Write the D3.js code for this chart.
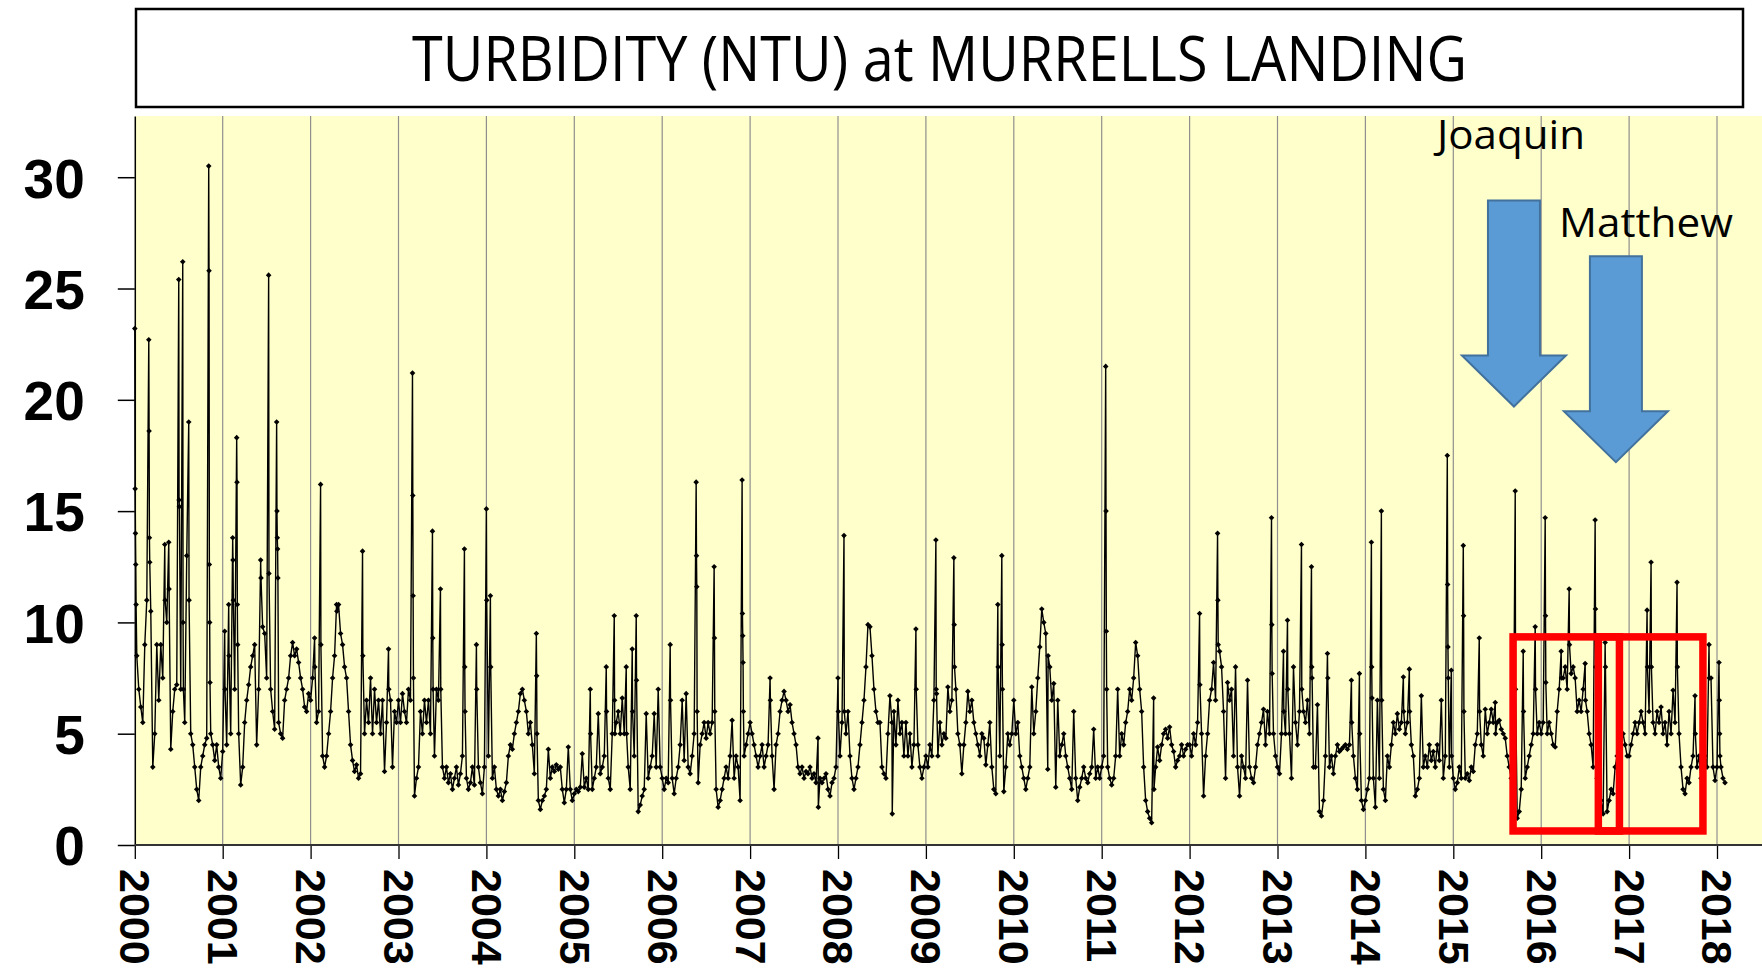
<!DOCTYPE html>
<html>
<head>
<meta charset="utf-8">
<script src="https://cdn.jsdelivr.net/npm/d3@7"></script>
<style>
  html, body { margin: 0; padding: 0; background: #ffffff; }
  svg { display: block; }
</style>
</head>
<body>
<svg id="chart" width="1762" height="970"></svg>
<script>
// ---------------- DATA ----------------
// Turbidity (NTU), one array per year.
// Each entry is one sampling slot (44 per year); a nested array is a
// short burst of consecutive readings inside the same slot (storm spikes).
const SLOTS_PER_YEAR = 44;

const t2000 = [[23.2,16,14,12.6,10.8], 8.5, 7, 6.2, 5.5, 9, 11, [22.7,18.6,13.8,12.7], 10.5, 3.5,
  5, 9, 6.5, 9, 7.5, [13.5,11], 10, [13.6,11.5], 4.3, 6,
  7, 7.2, [25.4,15.5,15.2], 7, [26.2,10,7], 5.5, 13, [19,11], 5, 4.5,
  3.5, 2.5, 2, 3.5, 4, 4.5, 4.8, [30.5,25.8,12.6,10,7.3], 5, 4.5,
  3.8, 4.5, 3.5, 3];
const t2001 = [4.2, [9.6,7], 4.5, [10.8,8.5], 5, [13.8,12.8,11], 7, [18.3,16.3,10.8,9], 5, 2.7,
  3.5, 5.5, 6.5, 7.2, 8, 8.5, 9, 4.5, 7, [12.8,12],
  9.8, 9.5, 7.5, [25.6,12.2], 7, 6, 5.2, [19,15,13.8,13.3,12], 5.5, 5,
  4.8, 6.5, 7, 7.5, 8.5, 9.1, 8.5, 8.8, 8.2, 7.5,
  7, 6.2, 6, 6.8];
const t2002 = [6.5, 7.5, [9.3,8], 5.5, 6, [16.2,9], 4, 3.5, 4, 5,
  6, 7.5, 8.5, [10.8,10.5], 10.8, 9.5, 9, 8, 7.5, 6,
  4.5, 3.8, 3.3, 3.6, 3, 3.2, [13.2,8.5], 5, 6.5, 5.5,
  7.5, 5, 7, 5.5, 6.5, 5, 6.5, 3.3, 5.5, [8.8,7],
  6.5, 3.5, 6, 5.5];
const t2003 = [6.5, 5.5, 6.8, 6, 5.5, 7, 6.5, [21.2,15.7,11.2,7.5], 2.2, 3,
  3.5, 6, 5, 6.5, 5.5, 6.5, 5, [14.1,9.3,7], 4, 7,
  6.5, [11.5,7], 3.5, 3, 3.5, 2.8, 3.2, 2.5, 3, 3.5,
  2.7, 3.2, 4, [13.3,8,6], 3, 2.5, 2.8, 3.5, 2.7, [9,7],
  3.5, 2.8, 2.3, 3.5];
const t2004 = [[15.1,11], 4, [11.2,8], 3, 3.5, 2.5, 2.2, 2.5, 2, 2.4,
  2.8, 4, 4.5, 4.3, 5, 5.5, 6, 6.8, 7, 6.5,
  6, 5, 5.5, 4.5, 3.2, [9.5,7.6,5], 2, 1.6, 2, 2.2,
  2.5, 4.3, 3, 3.5, 3.3, 3.6, 3.4, 3.5, 2.5, 1.9,
  2.5, 4.4, 2.5, 2];
const t2005 = [2.3, 2.5, 2.4, 2.6, 4.1, 2.6, 3, 2.5, [7,5], 2.5,
  3, 3.5, 5.9, 3.2, 3.5, 4, [8,6], 3, 2.5, 5,
  [10.3,6.5,5], 5.5, 6, 5, 6.6, 5, [8,5], 3.5, 2.5, [8.8,6],
  4, [10.3,7.4], 1.5, 1.8, 2.2, 2.5, 5.9, 3, 3.5, 4,
  5.9, 3.5, 7, 3.5];
const t2006 = [3, 2.5, 3, 2.8, [9,6.5], 3, 2.3, 3, 3.5, 4.5,
  6.5, 3.8, 6.8, 3.5, 3.2, 4, 5, [16.3,13,11.6,6], 2.8, 4.5,
  5, 5.5, 4.8, 5.5, 5, 5.5, [12.5,9.3,6], 2.5, 1.7, 2,
  2.5, 3, 3.5, 3, 4, 5.6, 3, 4, 3.5, 2,
  [16.4,10.4,9.4,8.2,6], 4, 4.5, 5];
const t2007 = [5.5, 5, 4.5, 4, 3.5, 4, 4.5, 3.5, 4, 4.5,
  [7.5,6.5], 4, 2.5, 4.5, 5, 6, 6.5, 6.9, 6.5, 6,
  6.3, 5.5, 5, 4.5, 3.5, 3.2, 3.5, 3, 3.3, 3.2,
  3.5, 3, 3.2, 2.8, [4.8,1.7], 3, 2.8, 3, 3.2, 2.5,
  2.2, 2.8, 3, 3.5];
const t2008 = [[7.5,6], 4, 5.5, [13.9,6], 5, 6, 4, 3, 2.5, 3,
  3.5, 4.5, 5.5, 6.5, 8, 9.9, 9.8, 8.5, 7, 6,
  5.5, 5.5, 3.5, 3.2, 3, 5, 6.7, [5.5,1.4], 6, 4.5,
  6.5, 5, 5.5, 4, 5.5, 4, 5, 3.5, 4.5, [9.7,7],
  4.5, 3.5, 3, 3.5];
const t2009 = [4, 3.5, 4.5, 4, 6.5, [13.7,7,6.8], 4, 5.5, 4.5, 5,
  4.8, 7.1, 6, 6.5, [12.9,9.9,8], 7, 5, 4.5, 3.2, 4.5,
  5.5, 6.9, 6, 6.5, 5.5, 5, 4.5, 4, 5, 4.8,
  3.6, 4.5, 5.5, 3.5, 2.5, 2.3, [10.8,8], 4, [13,9,7], 2.4,
  3.5, 5, 4.5, 5];
const t2010 = [6.5, 5, 5.5, 4, 3.5, 3, 2.5, 3, 3.5, 7.1,
  5, 6, 7.5, 8.9, 10.6, 10, 9.5, [3.4,8.5], 8, 6.5,
  7.25, 2.6, 6.5, 4, 4.5, 5, 4, 3.5, 3, 2.5,
  6, 3, 2, 2.6, 3, 3.5, 3, 2.8, 3.2, 3.5,
  5.2, 3, 3.5, 3];
const t2011 = [3.5, 4, [21.5,15,9.6,7], 3.5, 3, 2.7, 3, 4, 7, 4,
  5, 4.5, 5.5, 6, 7, 6.5, 7.5, 9.1, 8.5, 7,
  6, 3.5, 2, 1.5, 1.2, 1, [6.6,2.5], 3.5, 4.4, 3.8,
  4.5, 5, 5.2, 4.8, 5.3, 4.5, 4.2, 3.5, 3.8, 4,
  4.5, 4, 4.3, 4.5];
const t2012 = [4.5, 4, 5, 4.5, 5.5, [10.4,7.2], 5, 2.2, 4, 5,
  6.5, 7, 8.2, 6.5, [14,11,9], 8.7, 8, 6, 3, 7.3,
  6.5, 7, 4, 8, 3.5, 2.2, 4, 3.5, 3, 7.4,
  3.5, 3, 2.8, 3.5, 4.5, 5, 5.5, 6.1, 4.5, 6,
  5, [14.7,9.9,7.7], 5, 4];
const t2013 = [3.5, 3.2, 5, [8.7,6], 5, [10.1,7], 5, 3, 8, 5.5,
  4.5, 6, [13.5,7], 6, 5.5, 6.5, 5, [12.5,8,7.5], 3.5, 3.5,
  6.3, 1.5, 1.3, 2, 4, [8.6,7.5], 3.5, 4, 3.2, 4,
  4.5, 4.2, 4.3, 4.4, 4.5, 4.3, 4.5, [7.4,5.5], 4, 3,
  2.5, [7.7,5], 2, 1.6];
const t2014 = [2, 2.5, 3, [13.6,8,6.6], 3, 1.7, 6.5, 3, [15,6.5], 2.5,
  2, 4, 3.5, 4.5, 5.5, 5, 5.9, 5.2, 5.5, [7.55,6],
  5, 5.5, [7.9,6], 4.5, 4, 2.2, 2.5, 3, 6.7, 3.5,
  4, 3.5, 4.5, 3.8, 4.2, 3.5, 4.5, 3.8, 6.5, 3,
  4, [17.5,11.7,8.9,7.5], 3.5, [7.85,4]];
const t2015 = [3, 2.5, 2.8, 3.5, 3, [13.45,10.3,6], 3, 3.2, 2.9, 3.5,
  3.3, 4.5, 5, [9.3,6], 4.5, 4, 6.1, 5, 5.5, 6.1,
  5.5, [6.4,5], 5.5, 5.6, 5.2, 5, 4.8, 4, 3.5, 3,
  2.5, [15.9,7], 1.2, 1.5, 2.5, [8.7,6], 3, 3.5, 4, 4.5,
  5, [9.8,7], 5, 5.5];
const t2016 = [5, 5.5, [14.7,10.3,7.3], 5, 5.5, 5, 4.5, 4.4, 6, 7,
  [8.7,7.5], 7.5, 8, 7, [11.5,9], 7.7, 8, 7.5, 6, 6.5,
  6, 7, [8.15,6.5], 6, 5, 4.5, 3.5, [14.6,10.6,8], 3, 2.5,
  2, 1.4, [9.1,8], 1.5, 2, 2.5, 2.3, 3.5, 4, 4.2,
  4.5, 5, 4.5, 4];
const t2017 = [4, 4.5, 5, 5.5, 5, 5.5, 6, 5.5, 5, [10.55,8],
  6, [12.7,8], 5.5, 5, 6, 5.5, 6.2, 5, 5.5, 4.5,
  6, 5, 6.95, 5.5, [11.8,8], 5, 3.5, 2.5, 2.3, 3,
  2.8, 3.5, 4, [6.7,5], 3.5, 4, 3, 3.5, 4, 3.5,
  [9,7.5], 7.5, 3.5, 2.9];
const t2018 = [3.5, [8.2,6.5,5,4], 3.5, 3, 2.8];

const seriesByYear = [
  [2000, t2000], [2001, t2001], [2002, t2002], [2003, t2003], [2004, t2004],
  [2005, t2005], [2006, t2006], [2007, t2007], [2008, t2008], [2009, t2009],
  [2010, t2010], [2011, t2011], [2012, t2012], [2013, t2013], [2014, t2014],
  [2015, t2015], [2016, t2016], [2017, t2017], [2018, t2018]
];

const xTickYears = [2000,2001,2002,2003,2004,2005,2006,2007,2008,2009,
                    2010,2011,2012,2013,2014,2015,2016,2017,2018];
const yTickValues = [0, 5, 10, 15, 20, 25, 30];

const titleText = "TURBIDITY (NTU) at MURRELLS LANDING";

// hurricanes: name, date (decimal year) and turbidity level at the arrow tip
const hurricaneNames = ["Joaquin", "Matthew"];
const hurricaneDates = [2015.69, 2016.85];
const hurricaneTipValues = [19.7, 17.2];

// highlighted post-storm windows (decimal years) and their turbidity span
const windowStarts = [2015.68, 2016.65];
const windowEnds   = [2016.89, 2017.84];
const windowLow = 0.63, windowHigh = 9.35;

// ---------------- BUILD POINTS ----------------
const points = [];
seriesByYear.forEach(([yr, vals]) => {
  vals.forEach((v, i) => {
    if (Array.isArray(v)) {
      v.forEach((vv, j) => points.push({ t: yr + (i + j * 0.16) / SLOTS_PER_YEAR, v: vv }));
    } else {
      points.push({ t: yr + i / SLOTS_PER_YEAR, v: v });
    }
  });
});

// ---------------- LAYOUT ----------------
const W = 1762, H = 970;
const svg = d3.select("#chart");

const x = d3.scaleLinear().domain([2000, 2018]).range([134.8, 1717]);
const yTop = 32.75;
const y = d3.scaleLinear().domain([0, yTop]).range([845, 116]);

const plotLeft = x(2000), plotTop = y(yTop), plotBottom = y(0);

// plot background
svg.append("rect")
  .attr("x", plotLeft).attr("y", plotTop)
  .attr("width", W - plotLeft).attr("height", plotBottom - plotTop)
  .attr("fill", "#FFFFCC");

// vertical year gridlines
svg.append("g").selectAll("line")
  .data(xTickYears.slice(1)).join("line")
  .attr("x1", d => x(d)).attr("x2", d => x(d))
  .attr("y1", plotTop).attr("y2", plotBottom)
  .attr("stroke", "#8f8f8f").attr("stroke-width", 1.2);

// title box
svg.append("rect")
  .attr("x", 136).attr("y", 9).attr("width", 1607).attr("height", 98)
  .attr("fill", "#ffffff").attr("stroke", "#000").attr("stroke-width", 2.5);
svg.append("text")
  .attr("x", 939.5).attr("y", 81)
  .attr("text-anchor", "middle")
  .attr("font-family", "'Open Sans', 'Noto Sans', sans-serif")
  .attr("font-size", 62)
  .attr("textLength", 1055).attr("lengthAdjust", "spacingAndGlyphs")
  .attr("fill", "#000")
  .text(titleText);

// data line
const line = d3.line().x(d => x(d.t)).y(d => y(d.v));
svg.append("path").datum(points)
  .attr("d", line)
  .attr("fill", "none")
  .attr("stroke", "#000")
  .attr("stroke-width", 1.4)
  .attr("stroke-linejoin", "round");

// markers
const sym = d3.symbolDiamond2 || d3.symbolDiamond;
const symPath = d3.symbol().type(sym).size(20)();
svg.append("g").selectAll("path")
  .data(points).join("path")
  .attr("transform", d => `translate(${x(d.t)},${y(d.v)})`)
  .attr("d", symPath)
  .attr("fill", "#000");

// red windows
svg.append("g").selectAll("rect")
  .data(windowStarts.map((s, i) => [s, windowEnds[i]])).join("rect")
  .attr("x", d => x(d[0])).attr("width", d => x(d[1]) - x(d[0]))
  .attr("y", y(windowHigh)).attr("height", y(windowLow) - y(windowHigh))
  .attr("fill", "none").attr("stroke", "#FF0000").attr("stroke-width", 7.5);

// hurricane arrows (block arrows pointing down)
const shaftHalf = 26, headHalf = 52, headLen = 51, shaftLen = [155, 155];
hurricaneNames.forEach((name, i) => {
  const tx = x(hurricaneDates[i]), ty = y(hurricaneTipValues[i]);
  const hy = ty - headLen, top = hy - shaftLen[i];
  const pts = [
    [tx - shaftHalf, top], [tx + shaftHalf, top], [tx + shaftHalf, hy],
    [tx + headHalf, hy], [tx, ty], [tx - headHalf, hy], [tx - shaftHalf, hy]
  ];
  svg.append("polygon")
    .attr("points", pts.map(p => p.join(",")).join(" "))
    .attr("fill", "#5B9BD5").attr("stroke", "#41719C").attr("stroke-width", 2);
});

// hurricane labels
const labelPos = [[1437, 149, 148], [1559, 237, 174]];
hurricaneNames.forEach((name, i) => {
  svg.append("text")
    .attr("x", labelPos[i][0]).attr("y", labelPos[i][1])
    .attr("font-family", "'Open Sans', 'Noto Sans', sans-serif")
    .attr("font-size", 41)
    .attr("textLength", labelPos[i][2]).attr("lengthAdjust", "spacingAndGlyphs")
    .attr("fill", "#000")
    .text(name);
});

// y axis
const yAxis = d3.axisLeft(y).tickValues(yTickValues).tickFormat(d3.format("d"))
  .tickSize(17).tickSizeOuter(0).tickPadding(33);
const gY = svg.append("g").attr("transform", `translate(${plotLeft},0)`).call(yAxis);
gY.select(".domain").attr("stroke", "#000").attr("stroke-width", 1.5);
gY.selectAll(".tick line").attr("stroke", "#000").attr("stroke-width", 1.5);
gY.selectAll(".tick text")
  .attr("font-family", "'Liberation Sans', Arial, sans-serif")
  .attr("font-weight", "bold").attr("font-size", 55).attr("fill", "#000")
  .attr("dy", "0.36em");

// x axis
const xAxis = d3.axisBottom(x).tickValues(xTickYears).tickFormat(d3.format("d"))
  .tickSize(14).tickSizeOuter(0);
const gX = svg.append("g").attr("transform", `translate(0,${plotBottom})`).call(xAxis);
gX.select(".domain").remove();
gX.append("line")
  .attr("x1", plotLeft).attr("x2", W).attr("y1", 0).attr("y2", 0)
  .attr("stroke", "#333").attr("stroke-width", 2);
gX.selectAll(".tick line").attr("stroke", "#000").attr("stroke-width", 1.3);
gX.selectAll(".tick text")
  .attr("font-family", "'Liberation Sans', Arial, sans-serif")
  .attr("font-weight", "bold").attr("font-size", 43).attr("fill", "#000")
  .attr("transform", "rotate(90)")
  .attr("x", 24).attr("y", 0).attr("dy", "0.35em")
  .attr("text-anchor", "start");
</script>
</body>
</html>
